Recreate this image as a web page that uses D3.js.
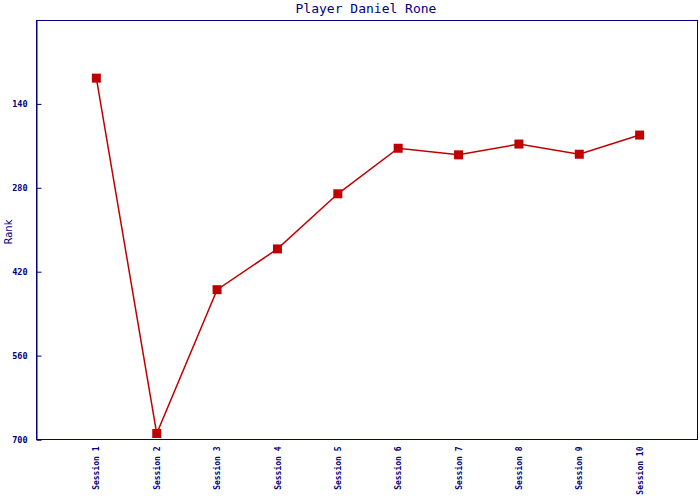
<!DOCTYPE html>
<html><head><meta charset="utf-8">
<script src="https://cdn.jsdelivr.net/npm/d3@7"></script>
<style>body{margin:0;background:#fff}</style>
</head><body>
<svg id="c" width="700" height="500"></svg>
<script>
const categories = ["Session 1","Session 2","Session 3","Session 4","Session 5","Session 6","Session 7","Session 8","Session 9","Session 10"];
const ranks = [97, 690, 450, 382, 290, 214, 225, 207, 224, 192];
const yTicks = [140, 280, 420, 560, 700];
const title = "Player Daniel Rone";
const yLabel = "Rank";

const svg = d3.select("#c");
const L = 36, T = 20, R = 698, B = 439.5;
const navy = "#000080", red = "#c00000";
const x = d3.scaleLinear().domain([0, categories.length + 1]).range([L, R + 2]);
const y = d3.scaleLinear().domain([0, 700]).range([T, B]);

svg.append("rect").attr("x", L + 0.5).attr("y", T + 0.5).attr("width", R - L - 1).attr("height", B - T - 0.5)
  .attr("fill", "none").attr("stroke", navy).attr("stroke-width", 1);

const yAxis = d3.axisLeft(y).tickValues(yTicks).tickSize(-5).tickPadding(9).tickFormat(d3.format("d"));
const ga = svg.append("g").attr("transform", `translate(${L + 0.5},0)`).call(yAxis);
ga.select(".domain").attr("stroke", navy);
ga.selectAll(".tick line").attr("stroke", navy);
ga.selectAll(".tick text").attr("fill", navy).attr("font-family", "DejaVu Sans Mono").attr("font-size", 8.5).attr("font-weight", "bold");

const xAxis = d3.axisBottom(x).tickValues(d3.range(1, categories.length + 1)).tickSize(0).tickPadding(0)
  .tickFormat((d) => categories[d - 1]);
const gx = svg.append("g").attr("transform", `translate(0,${B})`).call(xAxis);
gx.select(".domain").remove();
gx.selectAll(".tick text").attr("fill", navy).attr("font-family", "DejaVu Sans Mono").attr("font-size", 8)
  .attr("font-weight", "bold")
  .attr("transform", "rotate(-90)").attr("text-anchor", "end").attr("dy", "0.32em").attr("x", -7).attr("y", 0);

const pts = ranks.map((v, i) => [x(i + 1), y(v)]);
svg.append("path").attr("d", d3.line()(pts)).attr("fill", "none").attr("stroke", red).attr("stroke-width", 1.5);
svg.selectAll("rect.m").data(ranks).enter().append("rect").attr("class", "m")
  .attr("x", (d, i) => x(i + 1) - 4.5).attr("y", (d) => y(d) - 4.5).attr("width", 9).attr("height", 9).attr("fill", red);

svg.append("text").attr("x", 366).attr("y", 13).attr("text-anchor", "middle").attr("fill", navy)
  .attr("font-family", "DejaVu Sans Mono").attr("font-size", 13).text(title);
svg.append("text").attr("transform", "translate(12,232) rotate(-90)").attr("text-anchor", "middle").attr("fill", navy)
  .attr("font-family", "DejaVu Sans").attr("font-size", 10).text(yLabel);
</script>
</body></html>
